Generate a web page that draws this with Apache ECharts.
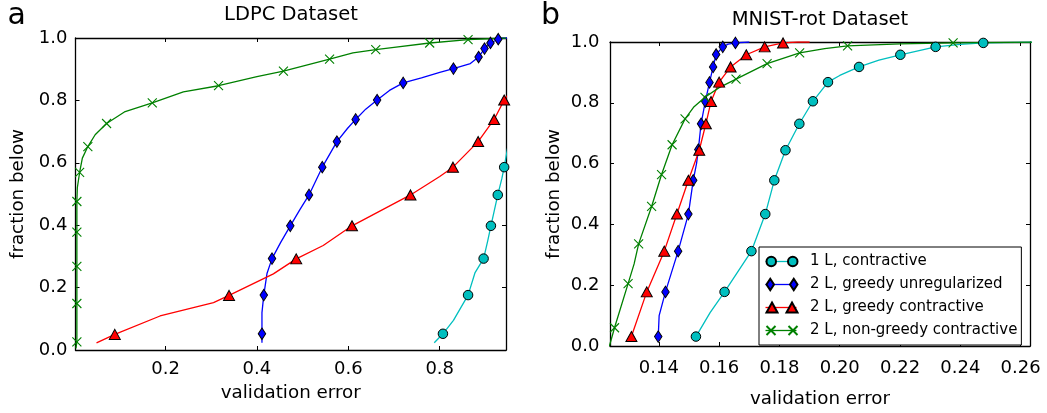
<!DOCTYPE html>
<html>
<head>
<meta charset="utf-8">
<script src="https://cdn.jsdelivr.net/npm/echarts@6/dist/echarts.min.js"></script>
<style>
  html, body { margin: 0; padding: 0; background: #fff; }
  #chart { width: 1047px; height: 413px; }
</style>
</head>
<body>
<div id="chart"></div>
<script>
const FONT = "DejaVu Sans";
const NAMES = ["1 L, contractive", "2 L, greedy unregularized", "2 L, greedy contractive", "2 L, non-greedy contractive"];
const COLORS = ["#00BFBF", "#0000FF", "#FF0000", "#008000"];

// panel a: LDPC, marker points and extra curve points (x = validation error, y = fraction below)
const ldpcMarks1L = [[0.807, 0.052], [0.862, 0.176], [0.896, 0.293], [0.912, 0.398], [0.927, 0.497], [0.941, 0.586]];
const ldpcCurve1L = [[0.788, 0.023], [0.830, 0.095], [0.877, 0.247], [0.905, 0.35], [0.936, 0.55], [0.955, 0.70]];

const ldpcMarksUnreg = [[0.411, 0.052], [0.415, 0.176], [0.433, 0.293], [0.473, 0.398], [0.514, 0.497], [0.543, 0.586],
  [0.575, 0.668], [0.616, 0.739], [0.663, 0.801], [0.720, 0.856], [0.830, 0.902], [0.885, 0.939], [0.898, 0.966],
  [0.911, 0.984], [0.928, 0.996]];
const ldpcCurveUnreg = [[0.411, 0.023], [0.411, 0.12], [0.422, 0.245], [0.452, 0.345], [0.494, 0.45], [0.598, 0.71],
  [0.638, 0.772], [0.690, 0.832], [0.760, 0.872], [0.800, 0.89], [0.867, 0.918], [0.936, 1.0], [0.950, 1.0]];

const ldpcMarksContr = [[0.089, 0.050], [0.339, 0.175], [0.486, 0.292], [0.608, 0.398], [0.736, 0.497], [0.829, 0.586],
  [0.884, 0.668], [0.919, 0.739], [0.941, 0.801]];
const ldpcCurveContr = [[0.049, 0.023], [0.188, 0.109], [0.305, 0.152], [0.436, 0.244], [0.545, 0.335], [0.800, 0.556], [0.960, 0.84]];

const ldpcMarksNonGreedy = [[0.006, 0.026], [0.006, 0.149], [0.006, 0.268], [0.006, 0.378], [0.006, 0.476], [0.012, 0.569],
  [0.030, 0.652], [0.071, 0.726], [0.171, 0.792], [0.316, 0.847], [0.458, 0.894], [0.559, 0.932], [0.660, 0.963],
  [0.778, 0.984], [0.862, 0.995]];
const ldpcCurveNonGreedy = [[0.004, 0.005], [0.007, 0.52], [0.018, 0.615], [0.046, 0.69], [0.110, 0.763], [0.239, 0.827],
  [0.400, 0.876], [0.610, 0.952], [0.700, 0.970], [0.945, 1.0]];

// panel b: MNIST-rot
const mnistMarks1L = [[0.1523, 0.031], [0.1618, 0.178], [0.1707, 0.312], [0.1753, 0.434], [0.1783, 0.545], [0.1820, 0.644],
  [0.1866, 0.731], [0.1911, 0.805], [0.1961, 0.868], [0.2064, 0.918], [0.2201, 0.958], [0.2318, 0.984], [0.2476, 0.997]];
const mnistCurve1L = [[0.1570, 0.11], [0.2000, 0.89], [0.2130, 0.94], [0.2400, 0.992], [0.2650, 1.0]];

const mnistMarksUnreg = [[0.1398, 0.031], [0.1422, 0.178], [0.1464, 0.312], [0.1498, 0.434], [0.1514, 0.545], [0.1531, 0.646],
  [0.1540, 0.731], [0.1554, 0.804], [0.1568, 0.867], [0.1580, 0.918], [0.1590, 0.959], [0.1612, 0.984], [0.1654, 0.997]];
const mnistCurveUnreg = [[0.1401, 0.10], [0.1525, 0.60], [0.1630, 0.993], [0.1700, 1.0]];

const mnistMarksContr = [[0.1309, 0.031], [0.1360, 0.178], [0.1418, 0.312], [0.1460, 0.434], [0.1498, 0.545], [0.1534, 0.644],
  [0.1556, 0.731], [0.1573, 0.804], [0.1600, 0.868], [0.1638, 0.918], [0.1690, 0.958], [0.1751, 0.984], [0.1812, 0.997]];
const mnistCurveContr = [[0.1860, 1.0], [0.1900, 1.0]];

const mnistMarksNonGreedy = [[0.1253, 0.060], [0.1298, 0.205], [0.1333, 0.336], [0.1376, 0.459], [0.1409, 0.564], [0.1444, 0.662],
  [0.1487, 0.747], [0.1553, 0.818], [0.1656, 0.878], [0.1759, 0.929], [0.1867, 0.964], [0.2026, 0.987], [0.2376, 0.997]];
const mnistCurveNonGreedy = [[0.1236, 0.0], [0.1318, 0.27], [0.1515, 0.785], [0.1600, 0.85], [0.1950, 0.978], [0.2200, 0.994], [0.2650, 1.0]];

const ldpcXTicks = [0.2, 0.4, 0.6, 0.8];
const mnistXTicks = [0.14, 0.16, 0.18, 0.20, 0.22, 0.24, 0.26];

const SYMBOLS = ["circle", "diamond", "triangle", "path://M0,0L10,10M0,10L10,0"];
const SYMBOL_SIZES = [9.5, [7.5, 11.5], [11, 10], 9];

// legend icons: marker at both ends (matplotlib style), line drawn by a second legend underneath
const LEGEND_MARKERS = [
  "path://M0,7a4.75,4.75 0 1,0 9.5,0a4.75,4.75 0 1,0 -9.5,0ZM21.5,7a4.75,4.75 0 1,0 9.5,0a4.75,4.75 0 1,0 -9.5,0Z",
  "path://M3.75,0L7.5,5.75L3.75,11.5L0,5.75ZM27.25,0L31,5.75L27.25,11.5L23.5,5.75Z",
  "path://M5.5,0L11,10L0,10ZM25.5,0L31,10L20,10Z",
  "path://M0,0L9,9M0,9L9,0M22,0L31,9M22,9L31,0"
];
const LEGEND_LINE = "path://M0,0L31,0L31,1.3L0,1.3Z";

function buildData(marks, curve) {
  const pts = marks.map(p => ({ value: p, mark: true })).concat(curve.map(p => ({ value: p, mark: false })));
  pts.sort((a, b) => a.value[1] - b.value[1] || a.value[0] - b.value[0]);
  return pts.map(p => p.mark ? { value: p.value } : { value: p.value, symbol: "none" });
}

function makeSeries(i, marks, curve, axisIndex) {
  const isCross = i === 3;
  return {
    name: NAMES[i],
    type: "line",
    xAxisIndex: axisIndex,
    yAxisIndex: axisIndex,
    data: buildData(marks, curve),
    symbol: SYMBOLS[i],
    symbolSize: SYMBOL_SIZES[i],
    showAllSymbol: true,
    clip: true,
    lineStyle: { color: COLORS[i], width: 1.3 },
    itemStyle: isCross
      ? { color: "rgba(0,0,0,0)", borderColor: COLORS[i], borderWidth: 1.1 }
      : { color: COLORS[i], borderColor: "#000", borderWidth: 1 },
    emphasis: { disabled: true }
  };
}

function xAxis(grid, position, min, max, ticks, digits, opts) {
  return Object.assign({
    type: "value",
    gridIndex: grid,
    position,
    min, max,
    axisLine: { show: true, onZero: false, lineStyle: { color: "#000", width: 1.3 } },
    axisTick: { show: true, inside: true, length: 4, customValues: ticks, lineStyle: { color: "#000", width: 1 } },
    axisLabel: { show: false, customValues: ticks, formatter: v => Number(v).toFixed(digits),
      color: "#000", fontSize: 18, fontFamily: FONT },
    splitLine: { show: false }
  }, opts || {});
}

function yAxis(grid, position, opts) {
  return Object.assign({
    type: "value",
    gridIndex: grid,
    position,
    min: 0, max: 1, interval: 0.2,
    axisLine: { show: true, onZero: false, lineStyle: { color: "#000", width: 1.3 } },
    axisTick: { show: true, inside: true, length: 4, lineStyle: { color: "#000", width: 1 } },
    axisLabel: { show: false, formatter: v => Number(v).toFixed(1), color: "#000", fontSize: 18, fontFamily: FONT },
    splitLine: { show: false }
  }, opts || {});
}

const nameStyle = { color: "#000", fontSize: 18.3, fontFamily: FONT };

const chart = echarts.init(document.getElementById("chart"));

const lx0 = xAxis(0, "bottom", 0.003, 0.945, ldpcXTicks, 1, {
  name: "validation error", nameLocation: "middle", nameGap: 34, nameTextStyle: nameStyle });
lx0.axisLabel.show = true; lx0.axisLabel.margin = 10.5;
const mx0 = xAxis(1, "bottom", 0.1238, 0.2631, mnistXTicks, 2, {
  name: "validation error", nameLocation: "middle", nameGap: 44, nameTextStyle: nameStyle });
mx0.axisLabel.show = true; mx0.axisLabel.margin = 13;

const ly0 = yAxis(0, "left", { name: "fraction below", nameLocation: "middle", nameGap: 48, nameTextStyle: nameStyle });
ly0.axisLabel.show = true; ly0.axisLabel.margin = 8;
const my0 = yAxis(1, "left", { name: "fraction below", nameLocation: "middle", nameGap: 46.5, nameTextStyle: nameStyle });
my0.axisLabel.show = true; my0.axisLabel.margin = 10.5;

const legendBase = {
  orient: "vertical",
  left: 759,
  top: 247,
  itemWidth: 31,
  itemHeight: 14,
  itemGap: 8,
  padding: [7, 5, 7, 6.5],
  selectedMode: false,
  textStyle: { color: "#000", fontSize: 15, fontFamily: FONT, padding: [0, 0, 0, 7.5] }
};

const option = {
  backgroundColor: "#fff",
  animation: false,
  grid: [
    { left: 75.5, top: 38, width: 430.5, height: 312 },
    { left: 610, top: 42, width: 420, height: 305 }
  ],
  xAxis: [
    lx0,
    xAxis(0, "top", 0.003, 0.945, ldpcXTicks, 1),
    mx0,
    xAxis(1, "top", 0.1238, 0.2631, mnistXTicks, 2)
  ],
  yAxis: [
    ly0,
    yAxis(0, "right"),
    my0,
    yAxis(1, "right")
  ],
  legend: [
    Object.assign({}, legendBase, {
      z: 3,
      backgroundColor: "#fff",
      borderColor: "#000",
      borderWidth: 1,
      borderRadius: 0,
      data: NAMES.map((n, i) => ({
        name: n, icon: LEGEND_LINE,
        itemStyle: { color: COLORS[i], borderWidth: 0 },
        textStyle: { color: "rgba(0,0,0,0)" }
      }))
    }),
    Object.assign({}, legendBase, {
      z: 6,
      backgroundColor: "rgba(0,0,0,0)",
      borderWidth: 0,
      data: NAMES.map((n, i) => ({ name: n, icon: LEGEND_MARKERS[i] }))
    })
  ],
  graphic: [
    { type: "text", left: 7.5, top: 1, style: { text: "a", fontSize: 30, fontFamily: FONT, fill: "#000" } },
    { type: "text", left: 541, top: 1, style: { text: "b", fontSize: 30, fontFamily: FONT, fill: "#000" } },
    { type: "text", x: 291, y: 15, style: { text: "LDPC Dataset", fontSize: 19.5, fontFamily: FONT, fill: "#000", align: "center", verticalAlign: "middle" } },
    { type: "text", x: 820, y: 19.5, style: { text: "MNIST-rot Dataset", fontSize: 19.5, fontFamily: FONT, fill: "#000", align: "center", verticalAlign: "middle" } }
  ],
  series: [
    makeSeries(0, ldpcMarks1L, ldpcCurve1L, 0),
    makeSeries(1, ldpcMarksUnreg, ldpcCurveUnreg, 0),
    makeSeries(2, ldpcMarksContr, ldpcCurveContr, 0),
    makeSeries(3, ldpcMarksNonGreedy, ldpcCurveNonGreedy, 0),
    makeSeries(0, mnistMarks1L, mnistCurve1L, 2),
    makeSeries(1, mnistMarksUnreg, mnistCurveUnreg, 2),
    makeSeries(2, mnistMarksContr, mnistCurveContr, 2),
    makeSeries(3, mnistMarksNonGreedy, mnistCurveNonGreedy, 2)
  ]
};

chart.setOption(option);
window.addEventListener("resize", () => chart.resize());
</script>
</body>
</html>
